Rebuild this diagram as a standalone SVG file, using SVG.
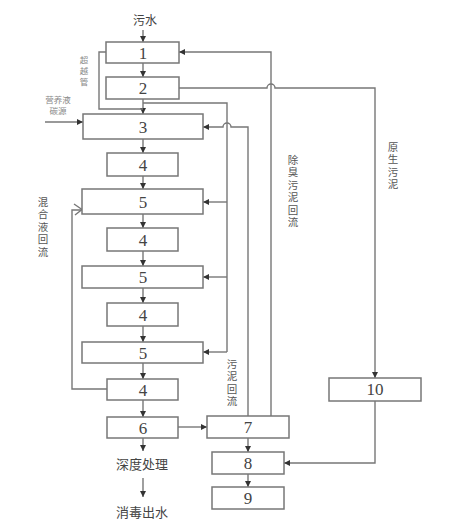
<svg xmlns="http://www.w3.org/2000/svg" width="450" height="530" viewBox="0 0 450 530">
<defs>
<style>
.box{fill:#fff;stroke:#777;stroke-width:1.5}
.num{font-family:"Liberation Serif",serif;font-size:17px;fill:#444;text-anchor:middle;dominant-baseline:central}
.ln{fill:none;stroke:#777;stroke-width:1.4}
.lbl{font-family:"Liberation Serif","Noto Sans CJK SC",serif;font-size:10.5px;fill:#555;text-anchor:middle;dominant-baseline:central}
.sm{font-family:"Liberation Serif","Noto Sans CJK SC",serif;font-size:8.5px;fill:#888;text-anchor:middle;dominant-baseline:central}
.big{font-family:"Liberation Sans","Noto Sans CJK SC",sans-serif;font-size:13px;fill:#444;text-anchor:middle;dominant-baseline:central}
</style>
<marker id="ar" viewBox="0 0 10 10" refX="10" refY="5" markerWidth="6" markerHeight="6" markerUnits="userSpaceOnUse" orient="auto">
<path d="M0,0 L10,5 L0,10 Z" fill="#333"/>
</marker>
</defs>
<rect width="450" height="530" fill="#fff"/>
<g id="connectors">
<path class="ln" d="M143,30 V42" marker-end="url(#ar)"/>
<path class="ln" d="M143,63 V77" marker-end="url(#ar)"/>
<path class="ln" d="M143,99 V114" marker-end="url(#ar)"/>
<path class="ln" d="M106,52 H99 V109 H143"/>
<path class="ln" d="M143,139 V153" marker-end="url(#ar)"/>
<path class="ln" d="M143,176 V189" marker-end="url(#ar)"/>
<path class="ln" d="M143,214 V228" marker-end="url(#ar)"/>
<path class="ln" d="M143,251 V266" marker-end="url(#ar)"/>
<path class="ln" d="M143,288 V303" marker-end="url(#ar)"/>
<path class="ln" d="M143,326 V342" marker-end="url(#ar)"/>
<path class="ln" d="M143,363 V379" marker-end="url(#ar)"/>
<path class="ln" d="M143,400 V417" marker-end="url(#ar)"/>
<path class="ln" d="M143,438 V451" marker-end="url(#ar)"/>
<path class="ln" d="M143,478 V497" marker-end="url(#ar)"/>
<path class="ln" d="M45,122 H83" marker-end="url(#ar)"/>
<path class="ln" d="M143,103 H227 V352"/>
<path class="ln" d="M227,202 H203" marker-end="url(#ar)"/>
<path class="ln" d="M227,277 H203" marker-end="url(#ar)"/>
<path class="ln" d="M227,352 H203" marker-end="url(#ar)"/>
<path class="ln" d="M248,416 V127 H231 A4,4 0 0 0 223,127 H203" marker-end="url(#ar)"/>
<path class="ln" d="M271,416 V52 H179" marker-end="url(#ar)"/>
<path class="ln" d="M179,88 H267 A4,4 0 0 1 275,88 H375 V378" marker-end="url(#ar)"/>
<path class="ln" d="M375,401 V463 H284" marker-end="url(#ar)"/>
<path class="ln" d="M178,427 H207" marker-end="url(#ar)"/>
<path class="ln" d="M248,438 V452" marker-end="url(#ar)"/>
<path class="ln" d="M248,474 V487" marker-end="url(#ar)"/>
<path class="ln" d="M107,389 H72 V210 H81"/>
<path class="ln" d="M74,204 L82,209.5 L75,215"/>
</g>
<g id="n1"><rect class="box" x="106" y="42" width="73" height="21"/><text class="num" x="143" y="53">1</text></g>
<g id="n2"><rect class="box" x="106" y="77" width="73" height="22"/><text class="num" x="143" y="88">2</text></g>
<g id="n3"><rect class="box" x="83" y="114" width="120" height="25"/><text class="num" x="143" y="127">3</text></g>
<g id="n4a"><rect class="box" x="107" y="153" width="71" height="23"/><text class="num" x="143" y="165">4</text></g>
<g id="n5a"><rect class="box" x="82" y="189" width="121" height="25"/><text class="num" x="143" y="202">5</text></g>
<g id="n4b"><rect class="box" x="107" y="228" width="71" height="23"/><text class="num" x="143" y="240">4</text></g>
<g id="n5b"><rect class="box" x="82" y="266" width="121" height="22"/><text class="num" x="143" y="277">5</text></g>
<g id="n4c"><rect class="box" x="107" y="303" width="71" height="23"/><text class="num" x="143" y="315">4</text></g>
<g id="n5c"><rect class="box" x="82" y="342" width="121" height="21"/><text class="num" x="143" y="353">5</text></g>
<g id="n4d"><rect class="box" x="107" y="379" width="71" height="21"/><text class="num" x="143" y="390">4</text></g>
<g id="n6"><rect class="box" x="107" y="417" width="71" height="21"/><text class="num" x="143" y="428">6</text></g>
<g id="n7"><rect class="box" x="207" y="416" width="82" height="22"/><text class="num" x="248" y="427">7</text></g>
<g id="n8"><rect class="box" x="212" y="452" width="72" height="22"/><text class="num" x="248" y="463">8</text></g>
<g id="n9"><rect class="box" x="212" y="487" width="72" height="22"/><text class="num" x="248" y="498">9</text></g>
<g id="n10"><rect class="box" x="329" y="378" width="92" height="23"/><text class="num" x="375" y="389">10</text></g>
<g id="labels">
<text class="big" x="145" y="21" style="font-size:12px">污水</text>
<text class="sm" x="84" y="60">超</text>
<text class="sm" x="84" y="71">越</text>
<text class="sm" x="84" y="82">管</text>
<text class="sm" x="58" y="100">营养液</text>
<text class="sm" x="58" y="111">碳源</text>
<text class="lbl" x="43" y="202">混</text>
<text class="lbl" x="43" y="214.5">合</text>
<text class="lbl" x="43" y="227">液</text>
<text class="lbl" x="43" y="239.5">回</text>
<text class="lbl" x="43" y="252">流</text>
<text class="lbl" x="293" y="160">除</text>
<text class="lbl" x="293" y="172.5">臭</text>
<text class="lbl" x="293" y="185">污</text>
<text class="lbl" x="293" y="197.5">泥</text>
<text class="lbl" x="293" y="210">回</text>
<text class="lbl" x="293" y="222.5">流</text>
<text class="lbl" x="393" y="147">原</text>
<text class="lbl" x="393" y="159.5">生</text>
<text class="lbl" x="393" y="172">污</text>
<text class="lbl" x="393" y="184.5">泥</text>
<text class="lbl" x="232" y="364">污</text>
<text class="lbl" x="232" y="376.5">泥</text>
<text class="lbl" x="232" y="389">回</text>
<text class="lbl" x="232" y="401.5">流</text>
<text class="big" x="142" y="464">深度处理</text>
<text class="big" x="142" y="512">消毒出水</text>
</g>
</svg>
